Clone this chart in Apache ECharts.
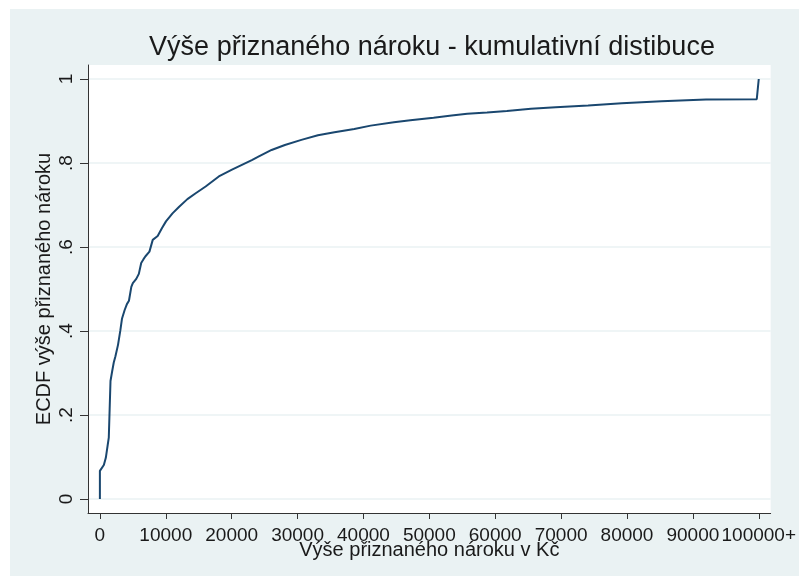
<!DOCTYPE html>
<html>
<head>
<meta charset="utf-8">
<script src="https://cdn.jsdelivr.net/npm/echarts@6/dist/echarts.min.js"></script>
<style>
  html, body { margin: 0; padding: 0; background: #fff; }
  #chart { position: absolute; left: 10px; top: 9px; width: 789px; height: 567px; }
</style>
</head>
<body>
<div id="chart"></div>
<script>
// ECDF of the awarded claim (Kč); the last point is the "100000+" bucket
const claimKc = [0, 0, 256, 600, 900, 1160, 1350, 1610, 1850, 2105, 2360, 2750, 3110, 3350,
  3760, 4100, 4410, 4770, 5000, 5520, 5910, 6270, 6620, 6920, 7520, 8020, 8770, 9430,
  10030, 11020, 12030, 13280, 14540, 16050, 18050, 20050, 23060, 24060, 26060, 28080,
  30580, 33090, 35600, 38610, 41100, 44620, 47120, 50640, 53390, 55750, 58760, 61770,
  65420, 69180, 74100, 79220, 85230, 92000, 99700, 100000]
const ecdf = [0, 0.067, 0.071, 0.081, 0.098, 0.126, 0.146, 0.281, 0.303, 0.325, 0.340, 0.367,
  0.402, 0.429, 0.450, 0.464, 0.472, 0.505, 0.514, 0.524, 0.536, 0.562, 0.571, 0.578, 0.589,
  0.617, 0.626, 0.645, 0.661, 0.680, 0.696, 0.714, 0.728, 0.744, 0.768, 0.784, 0.807,
  0.815, 0.831, 0.843, 0.855, 0.866, 0.873, 0.881, 0.889, 0.897, 0.902, 0.908, 0.913,
  0.917, 0.920, 0.924, 0.929, 0.933, 0.937, 0.942, 0.947, 0.951, 0.952, 1]

const xTicks = [0, 10000, 20000, 30000, 40000, 50000, 60000, 70000, 80000, 90000, 100000]
const yTicks = [0, 0.2, 0.4, 0.6, 0.8, 1]
const yTickLabels = ['0', '.2', '.4', '.6', '.8', '1']

const FONT = '"Liberation Sans", Arial, sans-serif'
const TXT = '#1a1a1a'

const chart = echarts.init(document.getElementById('chart'), null, { renderer: 'canvas' })

chart.setOption({
  backgroundColor: '#eaf2f3',
  animation: false,
  title: {
    text: 'Výše přiznaného nároku - kumulativní distibuce',
    left: 422,
    top: 25,
    padding: 0,
    textAlign: 'center',
    textStyle: { fontFamily: FONT, fontSize: 27, fontWeight: 'normal', color: TXT },
  },
  grid: {
    left: 78, right: 22, top: 56, bottom: 63,
    show: true, backgroundColor: '#ffffff', borderWidth: 0,
  },
  xAxis: {
    type: 'value',
    min: -1805,
    max: 101805,
    name: 'Výše přiznaného nároku v Kč',
    nameLocation: 'middle',
    nameGap: 27,
    nameMoveOverlap: false,
    nameTextStyle: { fontFamily: FONT, fontSize: 20, color: TXT },
    axisLine: { onZero: false, lineStyle: { color: '#333', width: 1 } },
    axisTick: { customValues: xTicks, length: 6, lineStyle: { color: '#333' } },
    axisLabel: {
      customValues: xTicks,
      margin: 13,
      fontFamily: FONT, fontSize: 19, color: TXT,
      formatter: v => (v === 100000 ? '100000+' : String(v)),
    },
    splitLine: { show: false },
  },
  yAxis: {
    type: 'value',
    min: -1 / 30,
    max: 1 + 1 / 30,
    name: 'ECDF výše přiznaného nároku',
    nameLocation: 'middle',
    nameGap: 34,
    nameMoveOverlap: false,
    nameTextStyle: { fontFamily: FONT, fontSize: 20, color: TXT },
    axisLine: { onZero: false, lineStyle: { color: '#333', width: 1 } },
    axisTick: { customValues: yTicks, length: 8, lineStyle: { color: '#333' } },
    axisLabel: {
      customValues: yTicks,
      rotate: 90,
      margin: 12,
      fontFamily: FONT, fontSize: 19, color: TXT,
      formatter: v => yTickLabels[yTicks.indexOf(v)] ?? String(v),
    },
    splitLine: { show: true, lineStyle: { color: '#eaf2f3', width: 1.5 } },
  },
  series: [{
    type: 'line',
    showSymbol: false,
    data: claimKc.map((x, i) => [x, ecdf[i]]),
    lineStyle: { color: '#1a476f', width: 2 },
    itemStyle: { color: '#1a476f' },
  }],
})
</script>
</body>
</html>
